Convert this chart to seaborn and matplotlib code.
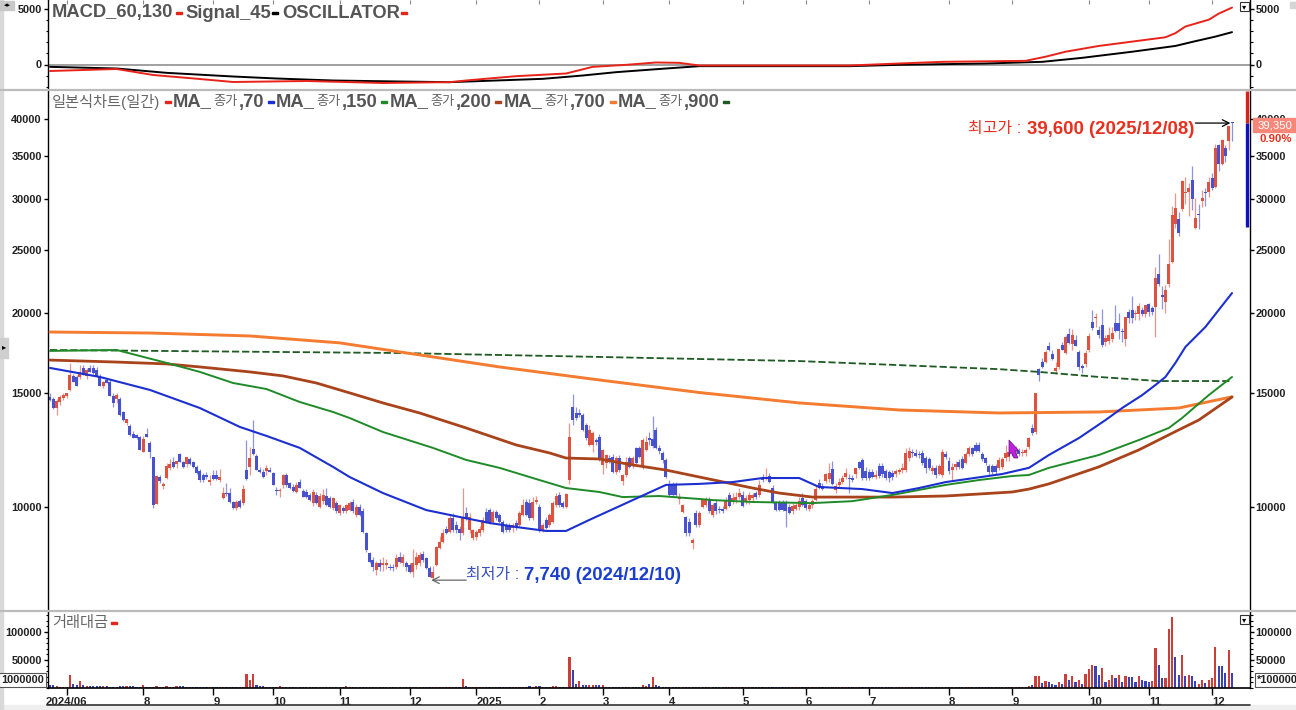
import matplotlib
matplotlib.use("Agg")
import matplotlib.pyplot as plt
from matplotlib.lines import Line2D
from matplotlib.patches import Polygon, Rectangle
from matplotlib.ticker import MultipleLocator, NullLocator
import numpy as np
import seaborn as sns

# daily candles, trading day index = list position
opens = [
    14830,14690,14250,14560,14740,14850,15190,15960,15930,15930,
    16420,15990,16420,16420,16310,15930,15420,15740,15650,14870,
    14690,14690,14020,13480,13350,12980,12930,12850,12180,12980,
    12550,11940,10120,11140,10760,11090,11490,11760,11680,12080,
    11760,11640,11860,11760,11520,11380,11210,11210,10950,11210,
    11210,11010,10330,10530,10500,10170,9960,10220,10130,11410,
    11530,12320,12010,11410,11350,11390,11420,11300,10630,10580,
    10800,11210,10880,10750,10560,10950,10600,10560,10440,10130,
    10440,10010,10200,10410,10320,9960,10140,9780,9960,9840,
    9900,10190,9730,10010,9860,9100,8470,8270,7980,8200,
    8130,8130,8080,8080,8080,8370,8180,8180,8130,7930,
    8130,8180,8450,8320,8030,7760,8130,8630,8830,9260,
    9160,9610,9380,9260,9100,9780,9210,8950,8990,9100,
    9210,9830,9890,9490,9830,9720,9490,9380,9380,9270,
    9430,9380,9720,10190,10130,9610,10190,10010,9210,9540,
    9380,9490,10070,10440,10130,9990,11020,14310,14000,14000,
    13890,13400,12500,12470,12700,12860,11620,11690,11900,11970,
    11340,11900,10980,11210,11900,11620,12330,12330,11520,12260,
    12780,12740,13170,12360,12110,11830,10860,10830,10830,10280,
    9830,9650,9490,8780,9770,9380,10010,10080,10250,9720,
    10130,9940,9940,9940,10450,10190,10250,10380,10450,10190,
    10250,10320,10510,10450,11080,11040,11170,10690,10130,10130,
    10130,10130,10010,9840,9940,10010,10320,10200,9940,10070,
    10250,10880,10780,10990,11040,11440,10630,10820,10950,11140,
    11080,11080,11240,11760,11830,11380,11340,11340,11140,11580,
    11580,11380,11340,11300,11270,11340,11400,11400,11900,12180,
    12110,12080,12140,11900,11860,11370,11510,11270,11210,12080,
    11800,11400,11540,11760,11860,11690,12080,12330,12470,12470,
    12080,11900,11580,11580,11580,11510,11540,11900,11950,12330,
    12200,12230,12110,12110,12370,13260,13090,16350,16800,16800,
    17750,17280,16250,16500,17850,17350,18550,17880,18180,17420,
    16550,16650,17520,19390,19650,18830,19170,18030,18100,18200,
    19270,19270,18720,18200,20100,20210,19900,19950,20210,19950,
    20650,20350,20450,23000,21300,20830,22200,24000,27500,27970,
    29000,30700,30750,32200,27100,28500,29800,30800,30750,32400,
    31400,36400,34100,36000,36900,39600,
]
highs = [
    15050,14800,14700,14900,15000,15050,16700,16100,16050,16600,
    16600,16400,16600,16600,16500,16100,15700,15850,15800,15000,
    15050,14800,14100,13700,13450,13100,13000,12900,12900,13250,
    12650,11950,11200,11200,10950,11700,11850,11950,11800,12120,
    11800,11950,11950,11800,11600,11450,11300,11350,11200,11400,
    11400,11450,10750,10900,10700,10200,10250,10300,10800,12700,
    12400,13620,12100,11520,11450,11600,11550,11350,10750,10700,
    11250,11300,10950,10850,10950,11050,10650,10650,10500,10650,
    10550,10500,10650,10700,10400,10350,10200,10100,10050,10100,
    10200,10300,10100,10100,9950,9150,8500,8350,8250,8300,
    8350,8300,8150,8150,8450,8500,8450,8250,8200,8600,
    8500,8500,8550,8350,8100,8100,8700,9000,9250,9350,
    9750,9800,9500,9350,10700,10000,9800,9250,9200,9350,
    9650,9950,9950,9900,9900,9800,9550,9450,9450,9450,
    9550,9850,10300,10300,10300,10350,10400,10100,9450,9650,
    9800,10200,10500,10550,10200,10500,13480,14950,14300,14200,
    14000,13500,13400,13100,12800,13000,12300,12100,12050,12100,
    12000,12050,11250,11950,12000,12000,12400,12450,12800,12900,
    13050,13830,13300,12500,12200,11900,11000,10950,10950,10500,
    10100,9700,9600,8950,9900,9850,10300,10350,10350,10150,
    10300,10050,10050,10350,10550,10500,10550,10700,10600,10450,
    10550,10500,10600,11000,11250,11500,11300,10800,10200,10250,
    10250,10250,10100,10150,10150,10350,10500,10300,10150,10300,
    10800,11050,10900,11300,11700,11800,10900,11100,11200,11500,
    11250,11200,11500,11800,11900,11550,11450,11450,11400,11700,
    11700,11450,11400,11400,11450,11500,11700,12350,12400,12300,
    12300,12200,12250,12000,11950,11600,11600,11650,12300,12200,
    11950,11700,11800,11850,12000,12150,12450,12400,12600,12600,
    12150,11950,11650,11650,11650,11950,11950,12500,12450,12450,
    12450,12350,12300,12350,12850,13450,15050,16450,17000,17500,
    18000,17500,16800,17600,18000,18500,18950,18900,18500,17500,
    16650,17500,18600,20200,20000,19100,20300,18500,19000,19000,
    20600,20000,18950,19730,20300,21220,20200,20700,20400,20600,
    20750,20500,23600,24700,22000,22100,26000,29300,30700,28700,
    32200,32500,31800,33800,30200,29500,31000,31200,32500,33000,
    36600,36600,37200,36400,39000,39600,
]
lows = [
    14600,14180,13900,14400,14650,14750,15150,15600,15400,15800,
    16000,15800,16200,16100,15900,15400,15300,15550,14850,14300,
    14500,13850,13600,13400,12900,12780,12760,12240,12150,12830,
    11900,9980,10100,10900,10650,11050,11400,11500,11500,11750,
    11500,11550,11600,11500,11250,10950,10950,11050,10800,11000,
    11000,10950,10300,10400,10150,9930,9900,9950,10080,11000,
    11200,12050,11400,11280,11100,11200,11320,10800,10450,10350,
    10700,10750,10650,10550,10500,10700,10350,10320,10200,10050,
    10100,9950,10100,10050,9980,9900,9800,9720,9800,9800,
    9850,9800,9650,9700,9100,8500,8180,7950,7850,7950,
    7950,8000,7980,7970,8000,8180,8100,7950,7900,7800,
    8000,8100,8230,8000,7800,7740,8100,8600,8800,9080,
    9100,9150,9100,8900,9050,9550,9100,8880,8900,9000,
    9150,9450,9400,9400,9550,9450,9100,9150,9150,9150,
    9200,9300,9700,9700,9550,9550,10100,9150,9150,9250,
    9300,9450,10000,10000,9950,9950,10850,13400,13650,13800,
    13100,12700,12450,12150,12500,11800,11250,11500,11700,11300,
    11250,11350,10800,11150,11500,11500,11600,11900,11450,12200,
    12500,12350,12300,12100,11700,11100,10400,10400,10350,10100,
    9800,9000,9000,8600,9300,9300,9950,10000,9800,9650,
    9750,9800,9800,9900,10000,10100,10150,10300,10000,10100,
    10100,10200,10300,10350,10950,11000,10900,10150,9850,9850,
    9850,9300,9750,9750,9900,9900,10050,9900,9850,9950,
    10200,10650,10620,10900,10950,10830,10500,10750,10850,11050,
    10500,10950,11100,11450,11000,11000,11000,11100,11050,11100,
    11150,11000,10950,11000,11150,11250,11300,11350,11800,11950,
    11950,11900,11600,11300,11400,11250,11100,11200,11150,11850,
    11250,11000,11400,11450,11450,11650,12000,12000,12150,12150,
    11800,11600,11200,11200,11250,11400,11450,11800,11800,12000,
    12050,12000,12000,12000,12300,12950,13000,15700,16400,16700,
    17450,16900,16100,16350,17500,17250,17900,17500,17750,16300,
    16150,16500,17400,18800,19000,18300,17700,17800,17900,18000,
    18700,18250,18000,17800,19300,19300,19500,19500,19750,19700,
    19800,19850,18350,22000,20300,20000,21900,23900,27100,26300,
    28800,29500,28300,28900,27000,27000,29200,29300,30300,31000,
    31300,33200,33900,34300,35800,37000,
]
closes = [
    14660,14240,14600,14830,14920,15010,16030,15650,15420,16210,
    16040,16290,16220,16140,15960,15420,15650,15590,14870,14510,
    14930,13890,13640,13670,12930,12780,12780,12250,12750,12850,
    12180,10070,11170,10990,10860,11580,11670,11550,11770,11760,
    11550,11940,11640,11550,11310,11010,11010,11120,11010,11040,
    11050,11150,10500,10490,10190,9960,10190,10010,10680,11070,
    11930,12090,11410,11320,11120,11500,11330,10810,10590,10620,
    11210,10820,10690,10600,10820,10720,10380,10350,10250,10560,
    10130,10410,10440,10080,10010,10320,9840,10060,9840,10060,
    10140,9840,10010,9730,9160,8580,8220,8080,8180,8080,
    8200,8200,8030,8030,8320,8220,8370,8080,7930,8180,
    8370,8420,8280,8030,7800,7940,8680,8830,9100,9100,
    9610,9210,9210,9100,9660,9610,9660,9210,9160,9260,
    9540,9490,9430,9830,9600,9490,9160,9210,9210,9380,
    9270,9770,10070,9720,9610,10190,10250,9210,9380,9270,
    9720,10130,10400,10070,9990,10480,12850,13650,13730,13890,
    13170,12780,13170,13010,12620,11830,12260,12050,11760,11340,
    11900,11410,11210,11760,11550,11900,11690,11970,12700,12620,
    12700,12430,12360,12230,11830,11140,10430,10430,10430,10350,
    10070,9100,9100,8900,9380,9770,10250,10250,9840,10060,
    9840,9890,9870,10250,10040,10320,10380,10510,10040,10320,
    10420,10450,10360,10830,11010,11140,10950,10190,9890,9890,
    9890,9840,9800,10040,10070,10200,10070,9960,10070,10230,
    10660,10700,10660,11240,11280,10850,10760,10950,11080,11280,
    11050,11010,11480,11510,11080,11080,11080,11140,11210,11180,
    11240,11080,11080,11140,11380,11410,11510,12140,12230,12110,
    12000,12040,11690,11480,11510,11480,11230,11570,12180,11950,
    11370,11540,11660,11540,11510,12080,12330,12080,12200,12200,
    11880,11690,11340,11340,11340,11830,11860,12140,12190,12200,
    12330,12080,12180,12260,12800,13040,15050,16000,16470,17390,
    17490,16950,16450,17560,17520,18330,17960,18500,17800,16500,
    16400,17330,18390,18950,19730,18500,17850,18300,18500,18630,
    18720,18720,18650,19730,19640,19640,20000,20470,19950,20570,
    20050,20100,22630,22200,21150,21700,23850,28420,29130,26640,
    32000,30850,31300,30000,28050,28350,30150,30700,31900,31200,
    36000,34100,37080,35000,39000,39350,
]
volume = [
    5000,4800,3000,2500,2200,2000,24000,6500,5000,13000,4500,3600,3400,3300,3400,3300,3500,3300,2200,2000,
    2000,3000,3500,3400,4400,3600,2500,2200,4500,2300,2000,2000,2800,2000,2000,2800,2000,2000,3700,3600,
    3900,2000,2000,2000,2000,2000,2000,2000,2000,2000,2000,2000,2000,2000,2000,2000,2000,2000,2000,25000,
    15000,25000,5000,3800,3600,2600,2400,2000,2000,2900,2000,2000,2000,2000,2000,2000,2000,2000,2000,2000,
    2000,2000,2000,2600,2000,2000,2000,2000,2000,2700,2000,2000,2000,2000,2000,2000,2000,2000,2000,2000,
    2000,2000,2000,2000,2000,2000,2000,2000,2000,2000,2400,2000,2000,2000,2000,2000,2000,2000,2000,2000,
    2000,2000,2100,2000,16000,3500,2000,2000,2000,2000,2000,2000,2000,2000,2000,2000,2000,2000,2000,2000,
    2000,2400,2000,2000,2700,2400,2800,3200,2000,2000,2000,3200,3800,2000,2000,2200,55000,32000,7000,12000,
    5200,5000,4800,5000,5000,5000,4800,2500,2600,2000,2000,2200,2000,2600,2000,2200,2000,2000,6000,3500,
    7000,20000,6000,3000,2400,2000,1800,1900,2000,2000,2000,1900,2000,2000,2000,1900,1800,1900,1800,1900,
    1900,1800,1900,2000,1900,1800,1900,1800,1900,1800,1900,1800,1900,2000,1900,1800,1800,1900,1800,1900,
    1900,1800,1800,1900,2000,1900,1800,1900,2000,1900,2100,1900,1800,2000,1900,1800,1800,1900,1800,1900,
    2000,1900,1900,1800,1900,1800,1800,1900,1800,1900,1800,1900,1800,1800,1900,2000,1900,2500,2000,1900,
    1900,1800,1900,2000,1800,1900,1900,1800,2000,1900,1900,1800,1900,1800,1900,1800,1900,2500,1900,2000,
    1900,1800,1900,1800,1900,1900,2000,1900,2000,1900,2000,1900,2000,2000,4000,5000,22000,22000,9000,13000,
    10000,7000,5000,10000,7000,25000,15000,22000,10000,14000,7000,25000,34000,41000,39000,23000,36000,10000,14000,23000,
    18000,23000,10000,21000,19000,19000,11000,22000,14000,12000,11000,13000,72000,41000,18000,17000,105000,127000,55000,24000,
    59000,22000,24000,22000,13000,7000,15000,9000,15000,17000,73000,40000,40000,27000,68000,26000,
]
# days where the volume bar is red whatever the candle did
volume_red_days = [6, 9, 59, 61, 124, 156, 159, 181, 296, 297, 299, 303, 305, 307, 309, 311, 312, 313,
                   316, 318, 319, 321, 323, 327, 331, 332, 335, 336, 337, 340, 342, 345, 346, 348, 349, 350, 354]

# moving averages, read at the days where the curve bends
ma70_days = [0,15,30,45,57,65,75,85,90,100,113,123,132,140,149,155,162,177,185,195,205,214,225,231,244,253,261,269,286,294,300,309,317,322,328,332,335,338,341,347,351,355]
ma70 = [16430,15910,15190,14240,13310,12890,12350,11540,11130,10510,9890,9650,9445,9310,9180,9180,9550,10360,10820,10860,10930,11090,11090,10740,10660,10510,10700,10930,11250,11500,12040,12790,13640,14240,14910,15460,15910,16730,17710,19020,20210,21470]
ma150_days = [0,20,35,45,55,65,75,85,90,100,115,125,135,145,155,165,172,183,195,199,211,229,241,253,269,279,289,294,300,315,327,336,340,348,355]
ma150 = [17460,17520,16730,16200,15570,15240,14550,14040,13740,13070,12350,11830,11500,11090,10700,10550,10360,10400,10290,10250,10180,10140,10210,10440,10820,11010,11170,11210,11500,12040,12700,13260,13740,14910,15910]
ma200_days = [0,20,35,45,60,70,80,90,100,111,125,140,150,155,165,175,185,195,211,219,229,253,269,289,294,300,315,327,339,345,355]
ma200 = [16900,16780,16670,16490,16200,15970,15570,15030,14500,13990,13260,12480,12130,11910,11870,11620,11410,11130,10700,10510,10360,10360,10400,10550,10660,10860,11540,12260,13170,13640,14810]
ma700_days = [0,30,60,87,105,135,165,195,225,255,285,315,339,355]
ma700 = [18680,18614,18420,17970,17400,16490,15740,15050,14500,14140,13990,14040,14240,14820]
ma900_days = [0,105,165,225,285,297,315,333,355]
ma900 = [17520,17330,17090,16840,16360,16200,15910,15680,15680]

macd_days = [0,20,31,45,55,77,100,120,126,140,155,163,173,182,189,195,220,240,255,268,293,299,305,315,325,335,338,341,348,351,355]
macd = [-585,-405,-945,-1305,-1575,-1485,-1665,-1590,-1410,-1050,-810,-210,-30,180,150,-90,-90,-90,90,240,330,700,1150,1670,2060,2450,2820,3420,4030,4580,5120]
signal_days = [0,20,35,55,68,85,105,120,148,160,170,185,195,240,255,281,298,310,325,338,343,350,355]
signal = [-210,-360,-750,-1080,-1260,-1440,-1530,-1590,-1290,-990,-690,-360,-150,-150,-30,90,240,600,1150,1670,2030,2510,2910]

month_days = [5, 28, 49, 67, 87, 108, 128, 147, 166, 186, 208, 227, 246, 270, 289, 312, 330, 349]
month_labels = ["2024/06", "8", "9", "10", "11", "12", "2025", "2", "3", "4", "5", "6", "7", "8", "9", "10", "11", "12"]
price_ticks = [10000, 15000, 20000, 25000, 30000, 35000, 40000]

RED = "#DE5240"
BLUE = "#4852CE"
RED_WICK = "#E8958A"
BLUE_WICK = "#8E94DC"
TEXT = "#555555"
BLUE_MA = "#1C2FD0"
GREEN_MA = "#1F8A28"
BROWN_MA = "#A8431C"
ORANGE_MA = "#F47B30"
DARK_MA = "#1E5A22"
LINE_RED = "#E8231A"

W, H = 1296, 710
sns.set_theme(style="white")
plt.rcParams["font.family"] = ["Liberation Sans", "Noto Sans CJK KR", "DejaVu Sans"]


def fx(x):
    return x / W


def fy(y):
    return 1 - y / H


def add_panel(top, bottom):
    return fig.add_axes([fx(47.5), fy(bottom), (1250 - 47.5) / W, (bottom - top) / H])


def put(x, y, s, color=TEXT, size=13.2, weight="bold"):
    fig.text(fx(x), fy(y), s, color=color, fontsize=size, fontweight=weight, va="center", ha="left")


def dash(x, y, color):
    fig.add_artist(Rectangle((fx(x), fy(y + 1)), 6 / W, 2.2 / H, transform=fig.transFigure, color=color, zorder=20))


def style_axis(ax):
    for side in ["top", "bottom"]:
        ax.spines[side].set_visible(False)
    for side in ["left", "right"]:
        ax.spines[side].set_visible(True)
        ax.spines[side].set_color("black")
        ax.spines[side].set_linewidth(1)
    ax.set_xlim(-0.75, 360.4)
    ax.set_xticks([])
    ax.set_xlabel("")
    ax.set_ylabel("")
    ax.tick_params(axis="y", which="major", left=True, right=True, labelleft=True, labelright=True,
                   length=3, width=1, color="black", labelsize=7.9, pad=1, labelcolor="#222222")
    ax.tick_params(axis="y", which="minor", left=True, right=True, length=1.8, width=0.8, color="black")
    plt.setp(ax.get_yticklabels(), fontweight="bold")


fig = plt.figure(figsize=(W / 100, H / 100), dpi=100, facecolor="white")
ax_macd = add_panel(0, 88)
ax_main = add_panel(91, 611)
ax_vol = add_panel(612, 688)

# MACD panel
ax_macd.axhline(0, color="#999999", lw=1.3, zorder=1)
sns.lineplot(x=signal_days, y=signal, ax=ax_macd, color="black", lw=1.4, estimator=None, zorder=3)
sns.lineplot(x=macd_days, y=macd, ax=ax_macd, color=LINE_RED, lw=1.4, estimator=None, zorder=4)
ax_macd.set_ylim(-2115, 5805)
ax_macd.set_yticks([0, 5000])
ax_macd.yaxis.set_minor_locator(MultipleLocator(1000))
style_axis(ax_macd)
ax_macd.set_xticks(month_days)
ax_macd.set_xticklabels([])
ax_macd.tick_params(axis="x", top=True, bottom=False, direction="in", length=3, width=0.8, color="#888888")
ax_macd.set_xlim(-0.75, 360.4)

# candles
days = np.arange(len(closes))
o, h, l, c = map(np.array, (opens, highs, lows, closes))
up = c >= o
ax_main.vlines(days[up], l[up], h[up], color=RED_WICK, lw=0.9, zorder=2)
ax_main.vlines(days[~up], l[~up], h[~up], color=BLUE_WICK, lw=0.9, zorder=2)
ax_main.bar(days[up], (c - o)[up], bottom=o[up], width=0.9, color=RED, linewidth=0, zorder=2.5)
ax_main.bar(days[~up], (o - c)[~up], bottom=c[~up], width=0.9, color=BLUE, linewidth=0, zorder=2.5)

# moving averages
sns.lineplot(x=ma900_days, y=ma900, ax=ax_main, color=DARK_MA, lw=1.3, linestyle=(0, (4, 1.6)), estimator=None, zorder=3)
sns.lineplot(x=ma700_days, y=ma700, ax=ax_main, color=ORANGE_MA, lw=2.1, estimator=None, zorder=3)
sns.lineplot(x=ma200_days, y=ma200, ax=ax_main, color=BROWN_MA, lw=2.0, estimator=None, zorder=3.1)
sns.lineplot(x=ma150_days, y=ma150, ax=ax_main, color=GREEN_MA, lw=1.4, estimator=None, zorder=3.2)
sns.lineplot(x=ma70_days, y=ma70, ax=ax_main, color=BLUE_MA, lw=1.5, estimator=None, zorder=3.3)

ax_main.set_yscale("log")
ax_main.set_ylim(6897, 44180)
ax_main.set_yticks(price_ticks)
ax_main.set_yticklabels([str(t) for t in price_ticks])
ax_main.yaxis.set_minor_locator(NullLocator())
style_axis(ax_main)

# high / low call-outs
ax_main.annotate("", xy=(354.5, 39400), xytext=(344, 39400),
                 arrowprops=dict(arrowstyle="->", color="black", lw=0.9, shrinkA=0, shrinkB=0), zorder=5)
ax_main.annotate("", xy=(114.5, 7700), xytext=(125, 7700),
                 arrowprops=dict(arrowstyle="->", color="#666666", lw=0.9, shrinkA=0, shrinkB=0), zorder=5)

# range bar on the right edge of the price panel
ax_main.vlines(359.6, 39350, 44180, color="#D8201A", lw=2.4, zorder=6, clip_on=False)
ax_main.vlines(359.6, 27180, 39350, color="#1010C0", lw=2.4, zorder=6, clip_on=False)

# volume panel
vol_colors = ["up" if (i in volume_red_days or (i < 296 and closes[i] >= opens[i])) else "down" for i in days]
sns.barplot(x=days, y=volume, hue=vol_colors, palette={"up": "#E4291F", "down": "#2430CC"},
            native_scale=True, width=0.65, dodge=False, legend=False, linewidth=0, ax=ax_vol)
ax_vol.set_ylim(0, 135700)
ax_vol.set_yticks([50000, 100000])
ax_vol.yaxis.set_minor_locator(MultipleLocator(10000))
style_axis(ax_vol)
ax_vol.spines["bottom"].set_visible(True)
ax_vol.spines["bottom"].set_color("black")
ax_vol.spines["bottom"].set_linewidth(1.2)
ax_vol.set_xticks(month_days)
ax_vol.set_xticklabels(month_labels, fontweight="bold", fontsize=8.2, color="#222222")
ax_vol.tick_params(axis="x", bottom=True, length=5, width=1, color="black", pad=1.5)
for i, lab in enumerate(ax_vol.get_xticklabels()):
    lab.set_ha("center" if i == 0 else "left")

# panel separators and bottom band
for y in (89.5, 611):
    fig.add_artist(Line2D([0, 1], [fy(y), fy(y)], color="#BBBBBB", lw=1.6, zorder=10))
fig.add_artist(Line2D([fx(47), fx(1250)], [fy(705), fy(705)], color="#333333", lw=1.2))
fig.add_artist(Rectangle((0, 0), 1, 5 / H, transform=fig.transFigure, color="#EFEFEF", zorder=0))
fig.add_artist(Rectangle((0, 0), 3 / W, 1, transform=fig.transFigure, color="#D9D9D9", zorder=0))

# panel legends
put(52, 13, "MACD_60,130")
dash(176, 13, LINE_RED)
put(185, 13, "Signal_45")
dash(272, 13, "black")
put(282, 13, "OSCILLATOR")
dash(401, 13, LINE_RED)

put(52, 102, "일본식차트(일간)", "#666666", 11, "normal")
dash(165, 102, LINE_RED)
ma_periods = [",70", ",150", ",200", ",700", ",900"]
ma_x = [173, 276, 390, 504, 618]
dash_x = [268, 381, 495, 610, 723]
dash_c = [BLUE_MA, GREEN_MA, BROWN_MA, ORANGE_MA, DARK_MA]
for period, x, dx, col in zip(ma_periods, ma_x, dash_x, dash_c):
    put(x, 102, "MA_")
    put(x + 40, 102, "종가", "#666666", 9.5, "normal")
    put(x + 66, 102, period)
    dash(dx, 102, col)

put(52, 623, "거래대금", "#666666", 11, "normal")
dash(111, 623, LINE_RED)

put(968, 129, "최고가 :", "#E8301F", 11.5, "normal")
put(1027, 129, "39,600 (2025/12/08)", "#E8301F", 13.4, "bold")
put(466, 575, "최저가 :", "#3A50C0", 11.5, "normal")
put(524, 575, "7,740 (2024/12/10)", "#1A3FD0", 13.4, "bold")

# current price box
fig.add_artist(Rectangle((fx(1253), fy(132)), 43 / W, 14 / H, transform=fig.transFigure,
                         color="#F8877A", zorder=20))
fig.text(fx(1275), fy(125), "39,350", color="white", fontsize=8.2, ha="center", va="center", zorder=21)
fig.text(fx(1276), fy(139), "0.90%", color="#E8301F", fontsize=8.2, fontweight="bold", ha="center", va="center", zorder=21)

# scale boxes of the volume panel
fig.text(fx(1), fy(680), "1000000", color="#222222", fontsize=7.9, fontweight="bold", va="center", ha="left",
         bbox=dict(boxstyle="square,pad=0.15", fc="white", ec="#555555", lw=0.8), zorder=21)
fig.text(fx(1257), fy(680), "*100000", color="#222222", fontsize=7.9, fontweight="bold", va="center", ha="left",
         bbox=dict(boxstyle="square,pad=0.15", fc="white", ec="#555555", lw=0.8), zorder=21)

# chart window buttons and the mouse pointer in the screenshot
for bx, by in ((1240, 2), (1240, 615)):
    fig.add_artist(Rectangle((fx(bx), fy(by + 9)), 9 / W, 9 / H, transform=fig.transFigure,
                             fc="white", ec="#333333", lw=0.8, zorder=20))
    fig.text(fx(bx + 4.5), fy(by + 4.5), "▾", color="black", fontsize=6, ha="center", va="center", zorder=21,
             family="DejaVu Sans")
fig.add_artist(Rectangle((fx(1290), fy(8)), 6 / W, 6 / H, transform=fig.transFigure, color="#D5D5D5", zorder=20))
fig.add_artist(Rectangle((0, fy(10)), 14 / W, 9 / H, transform=fig.transFigure, color="#C8C8C8", zorder=20))
fig.text(fx(7), fy(5.5), "◂▸", color="black", fontsize=5, ha="center", va="center", zorder=21, family="DejaVu Sans")
fig.add_artist(Rectangle((0, fy(358)), 8 / W, 20 / H, transform=fig.transFigure, color="#CFCFCF", zorder=20))
fig.text(fx(4), fy(347), "▸", color="black", fontsize=6, ha="center", va="center", zorder=21, family="DejaVu Sans")
pointer = [(1009, 440), (1019, 451), (1015, 451), (1018, 458), (1014, 458), (1011, 452), (1009, 456)]
fig.add_artist(Polygon([(fx(a), fy(b)) for a, b in pointer], closed=True, transform=fig.transFigure,
                       fc="#C020E0", ec="#601080", lw=0.5, zorder=22))

fig.savefig("out.png", dpi=100, facecolor="white")
